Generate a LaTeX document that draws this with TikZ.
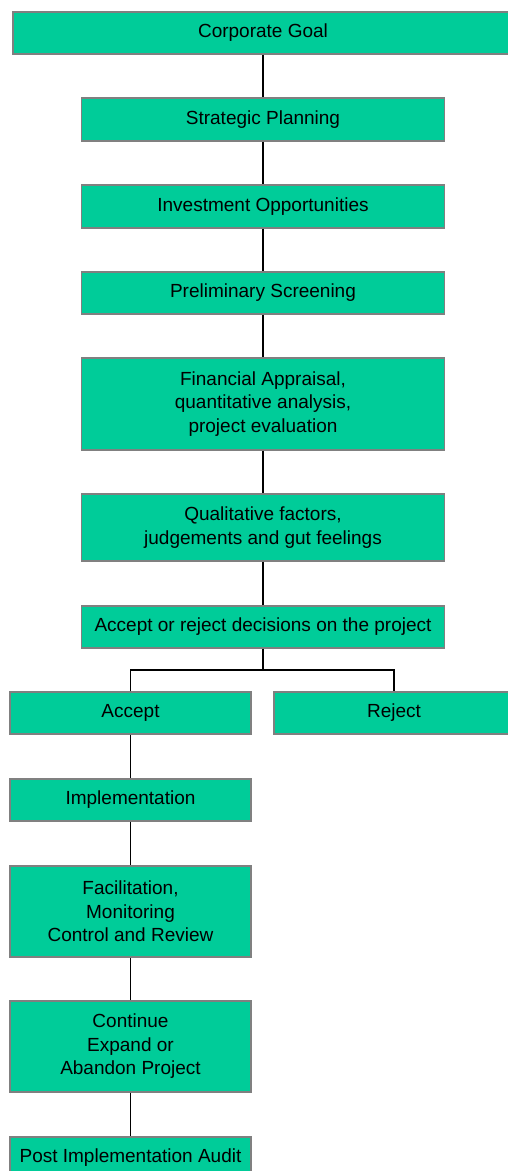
\documentclass[tikz,border=0pt]{standalone}
\usepackage{fontspec}
\setmainfont{Liberation Sans}
\definecolor{boxgreen}{HTML}{00CC99}
\definecolor{boxedge}{HTML}{808080}
\begin{document}
\begin{tikzpicture}[x=1pt,y=-1pt,
  box/.style={draw=boxedge, line width=1.3pt, fill=boxgreen, inner sep=0pt, align=center,
    font=\fontsize{19}{23.5}\selectfont},
  wide/.style={box, minimum width=363pt},
  narrow/.style={box, minimum width=241pt},
  conn/.style={draw=black, line width=1.9pt}]
\useasboundingbox (0,0) rectangle (508,1171);
\node[box, minimum width=500pt, minimum height=42pt] (cg) at (263,33) {Corporate Goal};
\node[wide, minimum height=43pt] (sp) at (263,119.5) {Strategic Planning};
\node[wide, minimum height=43pt] (io) at (263,206.5) {Investment Opportunities};
\node[wide, minimum height=42pt] (ps) at (263,293) {Preliminary Screening};
\node[wide, minimum height=92pt] (fa) at (263,404) {Financial Appraisal,\\quantitative analysis,\\project evaluation};
\node[wide, minimum height=67pt] (qf) at (263,527.5) {Qualitative factors,\\judgements and gut feelings};
\node[wide, minimum height=42pt] (ar) at (263,627) {Accept or reject decisions on the project};
\node[narrow, minimum height=42pt] (acc) at (130.5,713) {Accept};
\node[box, minimum width=240pt, minimum height=42pt] (rej) at (394,713) {Reject};
\node[narrow, minimum height=42pt] (imp) at (130.5,800) {Implementation};
\node[narrow, minimum height=91pt] (fac) at (130.5,911.5) {Facilitation,\\Monitoring\\Control and Review};
\node[narrow, minimum height=91pt] (cont) at (130.5,1046.5) {Continue\\Expand or\\Abandon Project};
\node[narrow, minimum height=42pt] (post) at (130.5,1158) {Post Implementation Audit};
\coordinate (fork) at (263,670);
\draw[conn] (cg) -- (sp);
\draw[conn] (sp) -- (io);
\draw[conn] (io) -- (ps);
\draw[conn] (ps) -- (fa);
\draw[conn] (fa) -- (qf);
\draw[conn] (qf) -- (ar);
\draw[conn] (ar.south) -- (fork);
\draw[conn] (acc.north) |- (fork) -| (rej.north);
\draw[conn] (acc) -- (imp);
\draw[conn] (imp) -- (fac);
\draw[conn] (fac) -- (cont);
\draw[conn] (cont) -- (post);
\end{tikzpicture}
\end{document}
